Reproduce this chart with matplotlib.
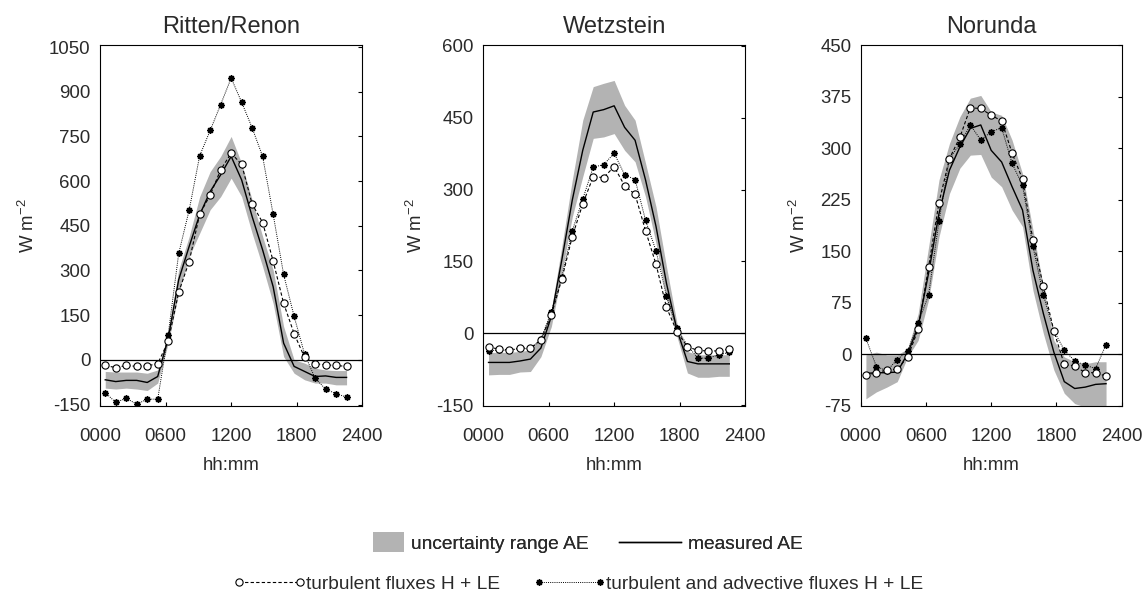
import matplotlib
matplotlib.use("Agg")
import matplotlib.pyplot as plt
from matplotlib.lines import Line2D
from matplotlib.patches import Patch, Rectangle
from matplotlib.legend_handler import HandlerPatch, HandlerLine2D

plt.rcParams['font.family'] = ['Liberation Sans', 'DejaVu Sans']
plt.rcParams['axes.unicode_minus'] = False

# ---------------- data ----------------
HOURS = [0.48, 1.44, 2.40, 3.36, 4.32, 5.28, 6.24, 7.20, 8.16, 9.12, 10.08, 11.04,
         12.00, 12.96, 13.92, 14.88, 15.84, 16.80, 17.76, 18.72, 19.68, 20.64, 21.60, 22.56]

SITES = ["Ritten/Renon", "Wetzstein", "Norunda"]

# Ritten/Renon
ritten_turb = [-19, -26, -19, -22, -20, -13, 62, 227, 330, 489, 553, 638,
               694, 656, 523, 461, 332, 190, 88, 8, -13, -17, -19, -22]
ritten_adv = [-110, -143, -129, -149, -132, -132, 85, 357, 503, 685, 770, 857,
              946, 865, 779, 683, 489, 287, 146, 19, -62, -98, -114, -125]
ritten_ae = [-67, -73, -69, -69, -76, -56, 73, 269, 381, 487, 565, 621,
             683, 604, 481, 369, 246, 56, -22, -39, -56, -54, -59, -59]
ritten_up = [-39, -41, -41, -41, -45, -34, 90, 302, 414, 548, 632, 683,
             750, 660, 537, 414, 302, 112, 0, -11, -28, -34, -36, -36]
ritten_lo = [-95, -98, -95, -98, -103, -78, 56, 224, 347, 425, 504, 548,
             610, 548, 425, 313, 190, 11, -45, -67, -78, -78, -84, -84]

# Wetzstein
wetz_turb = [-29, -33, -35, -31, -31, -14, 38, 113, 202, 270, 327, 325,
             348, 308, 290, 214, 144, 54, 3, -28, -36, -37, -37, -33]
wetz_adv = [-37, -35, -36, -31, -33, -13, 45, 117, 214, 280, 347, 352,
            376, 331, 321, 236, 172, 78, 10, -26, -52, -52, -45, -40]
wetz_ae = [-61, -61, -61, -58, -54, -31, 35, 153, 278, 382, 462, 467,
           475, 430, 403, 320, 223, 104, 7, -59, -64, -64, -64, -64]
wetz_up = [-40, -40, -40, -38, -35, -7, 49, 181, 320, 445, 515, 522,
           528, 476, 445, 355, 264, 139, 21, -38, -45, -45, -45, -45]
wetz_lo = [-87, -86, -86, -81, -80, -49, 14, 125, 243, 327, 407, 410,
           417, 382, 358, 285, 188, 70, -7, -83, -92, -92, -90, -90]

# Norunda
nor_turb = [-31, -27, -23, -22, -4, 36, 127, 221, 285, 316, 359, 358,
            348, 340, 293, 255, 166, 99, 34, -15, -17, -27, -27, -32]
nor_adv = [23, -18, -24, -8, 5, 45, 86, 194, 285, 306, 334, 312,
           324, 330, 278, 246, 157, 86, 34, 6, -10, -16, -21, 14]
nor_ae = [-28, -27, -27, -26, 1, 40, 118, 205, 268, 302, 329, 334,
          297, 280, 244, 210, 122, 59, 3, -40, -50, -48, -44, -43]
nor_up = [-1, 3, -1, -1, 8, 59, 156, 254, 307, 346, 373, 377,
          353, 348, 312, 263, 181, 98, 20, -4, -11, -14, -11, -11]
nor_lo = [-65, -55, -48, -40, -4, 20, 79, 171, 234, 271, 290, 291,
          258, 244, 210, 186, 93, 30, -23, -57, -72, -77, -77, -77]

TURB = [ritten_turb, wetz_turb, nor_turb]
ADV = [ritten_adv, wetz_adv, nor_adv]
AE = [ritten_ae, wetz_ae, nor_ae]
UPPER = [ritten_up, wetz_up, nor_up]
LOWER = [ritten_lo, wetz_lo, nor_lo]

YTICKS = [[-150, 0, 150, 300, 450, 600, 750, 900, 1050],
          [-150, 0, 150, 300, 450, 600],
          [-75, 0, 75, 150, 225, 300, 375, 450]]
YLIMS = [(-155, 1057), (-152, 602), (-75.5, 450.5)]
XTICKS = [0, 6, 12, 18, 24]
XTICKLABELS = ["0000", "0600", "1200", "1800", "2400"]

# ---------------- style ----------------
W, H = 1148, 593
BAND = "#b3b3b3"
TXT = "#2a2a2a"
FS = 13.4
LFS = 13.8

fig = plt.figure(figsize=(W / 100, H / 100), dpi=100)

lefts = [100, 483.3, 860.7]
widths = [262.3, 261.7, 261.0]
bottom_px, top_px = 406, 45

adv_marker = (8, 2, 0)
ADV_MS, ADV_MEW = 4.6, 1.1

for i in range(3):
    ax = fig.add_axes([lefts[i] / W, 1 - bottom_px / H, widths[i] / W, (bottom_px - top_px) / H])
    ax.fill_between(HOURS, LOWER[i], UPPER[i], color=BAND, linewidth=0, zorder=1)
    ax.axhline(0, color="black", linewidth=0.9, zorder=2)
    ax.plot(HOURS, AE[i], color="black", linewidth=1.0, zorder=3)
    ax.plot(HOURS, ADV[i], color="black", linestyle=(0, (1, 1.2)), linewidth=0.7,
            marker=adv_marker, markersize=ADV_MS, markeredgewidth=ADV_MEW, zorder=4)
    ax.plot(HOURS, TURB[i], color="black", linestyle=(0, (3, 2)), linewidth=0.8,
            marker="o", markersize=5.2, markerfacecolor="white", markeredgecolor="black",
            markeredgewidth=0.8, zorder=5)

    ax.set_xlim(0, 24)
    ax.set_ylim(*YLIMS[i])
    ax.set_xticks(XTICKS)
    ax.set_xticklabels(XTICKLABELS)
    ax.set_yticks(YTICKS[i])
    ax.set_yticklabels([str(v) for v in YTICKS[i]])
    ax.tick_params(axis="y", left=False, right=True, labelleft=True, direction="in",
                   length=3, width=0.8, pad=6.7, labelsize=FS, labelcolor=TXT)
    ax.tick_params(axis="x", bottom=True, top=False, direction="in",
                   length=3, width=0.8, pad=15.5, labelsize=FS, labelcolor=TXT)
    for s in ax.spines.values():
        s.set_linewidth(0.8)
        s.set_color("black")
    ax.set_title(SITES[i], fontsize=17, color=TXT, pad=8.6)
    ax.set_xlabel("hh:mm", fontsize=FS, color=TXT, labelpad=9.3)
    ax.set_ylabel(r"W m$^{\mathregular{-2}}$", fontsize=FS, color=TXT, labelpad=8)


# ---------------- legend ----------------
def make_rect(legend, orig_handle, xdescent, ydescent, width, height, fontsize):
    w, h = 22.3, 14.4
    return Rectangle((-xdescent + width - w, -ydescent + (height - h) / 2), w, h)


h_band = Patch(facecolor=BAND, edgecolor="none", label="uncertainty range AE")
h_ae = Line2D([], [], color="black", linewidth=1.0, label="measured AE")
leg1 = fig.legend(handles=[h_band, h_ae], loc="center", bbox_to_anchor=(0.4987, 1 - 544 / H),
                  ncol=2, frameon=False, fontsize=LFS, handlelength=3.25, handletextpad=0.37,
                  columnspacing=1.55, borderpad=0, labelcolor=TXT,
                  handler_map={Patch: HandlerPatch(patch_func=make_rect),
                               Line2D: HandlerLine2D(numpoints=1)})

h_turb = Line2D([], [], color="black", linestyle=(0, (3, 2)), linewidth=0.8, marker="o",
                markersize=5.2, markerfacecolor="white", markeredgecolor="black",
                markeredgewidth=0.8, label="turbulent fluxes H + LE")
h_adv = Line2D([], [], color="black", linestyle=(0, (1, 1.2)), linewidth=0.7,
               marker=adv_marker, markersize=ADV_MS, markeredgewidth=ADV_MEW,
               label="turbulent and advective fluxes H + LE")
leg2 = fig.legend(handles=[h_turb, h_adv], loc="center", bbox_to_anchor=(0.5035, 1 - 584 / H),
                  ncol=2, frameon=False, fontsize=LFS, handlelength=3.8, handletextpad=0.0,
                  columnspacing=1.75, borderpad=0, numpoints=2, labelcolor=TXT)
fig.add_artist(leg1)

fig.savefig("out.png", dpi=100)
